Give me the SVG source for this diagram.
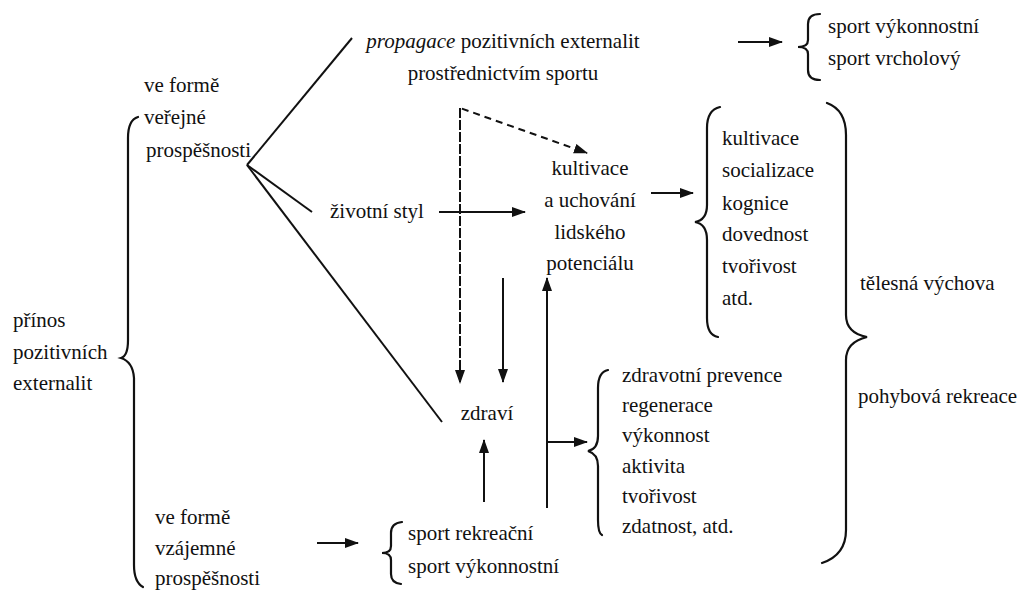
<svg xmlns="http://www.w3.org/2000/svg" width="1028" height="590" viewBox="0 0 1028 590" font-family="'Liberation Serif', 'Times New Roman', 'DejaVu Serif', serif">
<style>
text{font-family:'Liberation Serif','Times New Roman','DejaVu Serif',serif;font-size:21px;fill:#111}
.ln{stroke:#111;stroke-width:2;fill:none}
.br{stroke:#111;stroke-width:2.2;fill:none;stroke-linecap:round}
.ds{stroke-dasharray:7,5}
</style>
<defs>
<marker id="ah" viewBox="0 0 14 10" refX="13" refY="5" markerWidth="14" markerHeight="10" orient="auto" markerUnits="userSpaceOnUse"><path d="M0,0 L14,5 L0,10 z" fill="#111"/></marker>
</defs>
<rect width="1028" height="590" fill="#fff"/>

<g id="root">
<text x="13" y="327">přínos</text>
<text x="13" y="359">pozitivních</text>
<text x="13" y="390">externalit</text>
<path class="br" d="M138,117 Q128,120 128,138 L128,340 Q128,356 121,358 Q133,362 134,378 L134,565 Q134,582 143,587"/>
</g>

<g id="verejne">
<text x="144" y="92">ve formě</text>
<text x="144" y="124">veřejné</text>
<text x="146" y="157">prospěšnosti</text>
</g>

<g id="vzajemne">
<text x="155" y="524">ve formě</text>
<text x="155" y="555">vzájemné</text>
<text x="155" y="585">prospěšnosti</text>
</g>

<g id="propagace">
<text x="503" y="48" text-anchor="middle"><tspan font-style="italic">propagace</tspan> pozitivních externalit</text>
<text x="503" y="80" text-anchor="middle">prostřednictvím sportu</text>
</g>

<g id="sport-top">
<path class="br" d="M820,14 Q808,14 808,24 L808,40 Q808,47 798,47 Q808,47 808,54 L808,70 Q808,80 820,80"/>
<text x="828" y="33">sport výkonnostní</text>
<text x="828" y="65">sport vrcholový</text>
</g>

<g id="zivotni-styl">
<text x="330" y="218">životní styl</text>
</g>

<g id="kultivace">
<text x="590" y="175" text-anchor="middle">kultivace</text>
<text x="590" y="207" text-anchor="middle">a uchování</text>
<text x="590" y="239" text-anchor="middle">lidského</text>
<text x="590" y="270" text-anchor="middle">potenciálu</text>
</g>

<g id="kultivace-list">
<path class="br" d="M720,107 Q707,110 707,128 L707,205 Q707,220 695,222 Q707,224 707,240 L707,318 Q707,335 718,337"/>
<text x="722" y="145">kultivace</text>
<text x="722" y="177">socializace</text>
<text x="722" y="210">kognice</text>
<text x="722" y="241">dovednost</text>
<text x="722" y="273">tvořivost</text>
<text x="722" y="305">atd.</text>
</g>

<g id="vychova">
<path class="br" d="M827,103 Q846,110 846,135 L846,315 Q846,333 867,337 Q846,342 846,360 L846,530 Q846,555 822,563"/>
<text x="860" y="290">tělesná výchova</text>
<text x="858" y="403">pohybová rekreace</text>
</g>

<g id="zdravi">
<text x="487" y="420" text-anchor="middle">zdraví</text>
</g>

<g id="zdravi-list">
<path class="br" d="M608,370 Q598,372 598,388 L598,436 Q598,449 588,451 Q598,454 598,466 L598,520 Q598,533 602,535"/>
<text x="622" y="382">zdravotní prevence</text>
<text x="622" y="412">regenerace</text>
<text x="622" y="442">výkonnost</text>
<text x="622" y="473">aktivita</text>
<text x="622" y="503">tvořivost</text>
<text x="622" y="533">zdatnost, atd.</text>
</g>

<g id="sport-bottom">
<path class="br" d="M402,522 Q391,523 391,533 L391,546 Q391,553 382,553 Q391,553 391,560 L391,574 Q391,583 401,584"/>
<text x="408" y="540">sport rekreační</text>
<text x="408" y="573">sport výkonnostní</text>
</g>

<g id="connectors">
<line class="ln" x1="247" y1="165" x2="352" y2="38"/>
<line class="ln" x1="247" y1="165" x2="312" y2="212"/>
<line class="ln" x1="247" y1="165" x2="442" y2="422"/>
<line class="ln" x1="738" y1="42" x2="782" y2="42" marker-end="url(#ah)"/>
<line class="ln" x1="439" y1="212" x2="525" y2="212" marker-end="url(#ah)"/>
<polyline class="ln ds" points="460,382 460,108 587,153" marker-end="url(#ah)"/>
<line class="ln ds" x1="460" y1="108" x2="460" y2="383" marker-end="url(#ah)"/>
<line class="ln" x1="651" y1="193" x2="693" y2="193" marker-end="url(#ah)"/>
<line class="ln" x1="503" y1="278" x2="503" y2="382" marker-end="url(#ah)"/>
<line class="ln" x1="484" y1="502" x2="484" y2="440" marker-end="url(#ah)"/>
<line class="ln" x1="547" y1="508" x2="547" y2="278" marker-end="url(#ah)"/>
<line class="ln" x1="547" y1="442" x2="587" y2="442" marker-end="url(#ah)"/>
<line class="ln" x1="317" y1="543" x2="358" y2="543" marker-end="url(#ah)"/>
</g>
</svg>
